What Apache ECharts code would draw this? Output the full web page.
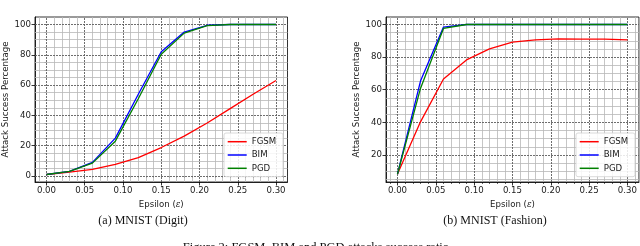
<!DOCTYPE html>
<html>
<head>
<meta charset="utf-8">
<script src="https://cdn.jsdelivr.net/npm/echarts@6/dist/echarts.min.js"></script>
<style>
html,body{margin:0;padding:0;background:#fff;}
#chart{width:640px;height:246px;}
</style>
</head>
<body>
<div id="chart"></div>
<script>
// ---- data ----
const epsilon = [0, 0.03, 0.06, 0.09, 0.12, 0.15, 0.18, 0.21, 0.24, 0.27, 0.30];
const seriesNames = ['FGSM', 'BIM', 'PGD'];
const digitFGSM = [1, 2.5, 4.4, 7.7, 12.2, 18.8, 26.3, 35, 44.5, 54, 63];
const digitBIM  = [1, 3, 9, 25, 54, 82, 95, 99.5, 100, 100, 100];
const digitPGD  = [1, 3, 8.5, 23, 51, 80.4, 94.3, 99.2, 100, 100, 100];
const fashionFGSM = [8.3, 40.3, 66.6, 78.3, 85, 89.2, 90.6, 91.2, 91, 91, 90.6];
const fashionBIM  = [8.3, 65.3, 98.4, 100, 100, 100, 100, 100, 100, 100, 100];
const fashionPGD  = [8.3, 60.8, 97.6, 100, 100, 100, 100, 100, 100, 100, 100];

// ---- ticks ----
const xMajorTicks = [0, 0.05, 0.10, 0.15, 0.20, 0.25, 0.30];
const xMinorTicks = [-0.01, 0.01, 0.02, 0.03, 0.04, 0.06, 0.07, 0.08, 0.09, 0.11, 0.12, 0.13, 0.14,
                     0.16, 0.17, 0.18, 0.19, 0.21, 0.22, 0.23, 0.24, 0.26, 0.27, 0.28, 0.29, 0.31];
const digitYMajorTicks = [0, 20, 40, 60, 80, 100];
const fashionYMajorTicks = [20, 40, 60, 80, 100];
const yMinorTicks = [5, 10, 15, 25, 30, 35, 45, 50, 55, 65, 70, 75, 85, 90, 95];
const panelCaptions = ['(a) MNIST (Digit)', '(b) MNIST (Fashion)'];
const figureCaption = 'Figure 2: FGSM, BIM and PGD attacks success ratio.';
const xTitle = 'Epsilon ({e|ε})';
const yTitle = 'Attack Success Percentage';

// ---- styles ----
const colors = ['#ff0000', '#0000ff', '#008000'];
const sansFont = 'DejaVu Sans';
const textColor = '#1a1a1a';
const fs = 8.6;

const panels = [
  {left: 34.5, ymin: -3.95, ymax: 104.95, yMajor: digitYMajorTicks, data: [digitFGSM, digitBIM, digitPGD], legendLeft: 224},
  {left: 386, ymin: 3.4, ymax: 104.6, yMajor: fashionYMajorTicks, data: [fashionFGSM, fashionBIM, fashionPGD], legendLeft: 576}
];

const grid = [], xAxis = [], yAxis = [], series = [], legend = [];
panels.forEach((p, gi) => {
  grid.push({left: p.left, top: 17, width: 253, height: 165, show: true, borderColor: '#000', borderWidth: 0.8, backgroundColor: 'transparent'});
  xAxis.push({
    gridIndex: gi, type: 'value', min: -0.015, max: 0.315,
    splitLine: {show: false},
    axisLine: {onZero: false, lineStyle: {color: '#000', width: 0.8}},
    axisTick: {customValues: xMajorTicks, length: 3.5, lineStyle: {color: '#000', width: 0.8}},
    axisLabel: {customValues: xMajorTicks, formatter: v => v.toFixed(2), margin: 4, fontSize: fs, color: textColor, fontFamily: sansFont},
    name: xTitle, nameLocation: 'middle', nameGap: 15,
    nameTextStyle: {fontSize: fs, color: textColor, fontFamily: sansFont, rich: {e: {fontSize: fs, fontStyle: 'italic', fontFamily: 'DejaVu Serif', color: textColor}}}
  });
  xAxis.push({
    gridIndex: gi, type: 'value', min: -0.015, max: 0.315, position: 'bottom',
    splitLine: {show: false}, axisLine: {show: false}, axisLabel: {show: false},
    axisTick: {customValues: xMinorTicks, length: 2, lineStyle: {color: '#000', width: 0.6}}
  });
  yAxis.push({
    gridIndex: gi, type: 'value', min: p.ymin, max: p.ymax,
    splitLine: {show: false},
    axisLine: {onZero: false, lineStyle: {color: '#000', width: 0.8}},
    axisTick: {customValues: p.yMajor, length: 3.5, lineStyle: {color: '#000', width: 0.8}},
    axisLabel: {customValues: p.yMajor, margin: 4, fontSize: fs, color: textColor, fontFamily: sansFont},
    name: yTitle, nameLocation: 'middle', nameGap: 25, nameRotate: 90,
    nameTextStyle: {fontSize: fs, color: textColor, fontFamily: sansFont}
  });
  yAxis.push({
    gridIndex: gi, type: 'value', min: p.ymin, max: p.ymax, position: 'left',
    splitLine: {show: false}, axisLine: {show: false}, axisLabel: {show: false},
    axisTick: {customValues: yMinorTicks, length: 2, lineStyle: {color: '#000', width: 0.6}}
  });
  const minorStyle = {color: '#b8b8b8', width: 0.8, type: 'solid'};
  const majorStyle = {color: '#5e5e5e', width: 0.9, type: [2, 1]};
  const lines = [];
  xMinorTicks.forEach(v => lines.push({xAxis: v, lineStyle: minorStyle}));
  yMinorTicks.forEach(v => lines.push({yAxis: v, lineStyle: minorStyle}));
  xMajorTicks.forEach(v => lines.push({xAxis: v, lineStyle: majorStyle}));
  p.yMajor.forEach(v => lines.push({yAxis: v, lineStyle: majorStyle}));
  series.push({
    name: '_grid' + gi, type: 'line', xAxisIndex: gi * 2, yAxisIndex: gi * 2,
    data: [[0, 50]], showSymbol: false, symbol: 'none', lineStyle: {opacity: 0}, silent: true,
    markLine: {silent: true, symbol: 'none', z: 1, animation: false, label: {show: false}, data: lines}
  });
  seriesNames.forEach((n, si) => {
    series.push({
      name: n, type: 'line', xAxisIndex: gi * 2, yAxisIndex: gi * 2, z: 3 + si,
      data: epsilon.map((e, i) => [e, p.data[si][i]]),
      symbol: 'none', color: colors[si], lineStyle: {color: colors[si], width: 1.3}
    });
  });
  legend.push({
    data: seriesNames, orient: 'vertical', left: p.legendLeft, top: 133,
    icon: 'rect', itemWidth: 19, itemHeight: 1.5, itemGap: 3.3,
    padding: [3.7, 6.8, 3.4, 3.7], backgroundColor: 'rgba(255,255,255,0.85)',
    borderColor: '#d0d0d0', borderWidth: 0.8, borderRadius: 2, selectedMode: false,
    textStyle: {fontSize: fs, lineHeight: 10, color: textColor, fontFamily: sansFont}
  });
});

const graphic = [
  {type: 'text', x: 143, y: 221, style: {text: panelCaptions[0], font: '12px "Liberation Serif"', fill: '#111', textAlign: 'center', textVerticalAlign: 'middle'}},
  {type: 'text', x: 495, y: 221, style: {text: panelCaptions[1], font: '12px "Liberation Serif"', fill: '#111', textAlign: 'center', textVerticalAlign: 'middle'}},
  {type: 'text', x: 317.5, y: 247.5, style: {text: figureCaption, font: '12.5px "Liberation Serif"', fill: '#111', textAlign: 'center', textVerticalAlign: 'middle'}}
];

const chart = echarts.init(document.getElementById('chart'), null, {renderer: 'canvas'});
chart.setOption({animation: false, backgroundColor: '#fff', grid, xAxis, yAxis, series, legend, graphic});
</script>
</body>
</html>
